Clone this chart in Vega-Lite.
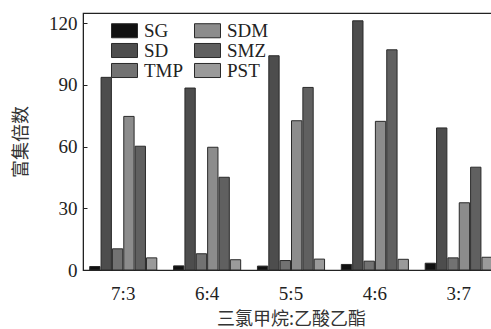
{
  "$schema": "https://vega.github.io/schema/vega-lite/v6.json",
  "autosize": "none",
  "padding": {"left": 83, "top": 13, "right": 0, "bottom": 59},
  "width": 416,
  "height": 257,
  "background": "white",
  "config": {
    "view": {"stroke": "#222", "strokeWidth": 1.2},
    "axis": {"domainColor": "#222", "tickColor": "#222", "labelColor": "#222", "titleColor": "#333", "grid": false}
  },
  "data": {
    "values": [
      {"ratio": "7:3", "compound": "SG", "value": 1.7},
      {"ratio": "7:3", "compound": "SD", "value": 93.7},
      {"ratio": "7:3", "compound": "TMP", "value": 10.3},
      {"ratio": "7:3", "compound": "SDM", "value": 74.7},
      {"ratio": "7:3", "compound": "SMZ", "value": 60.2},
      {"ratio": "7:3", "compound": "PST", "value": 5.9},
      {"ratio": "6:4", "compound": "SG", "value": 2.0},
      {"ratio": "6:4", "compound": "SD", "value": 88.5},
      {"ratio": "6:4", "compound": "TMP", "value": 7.9},
      {"ratio": "6:4", "compound": "SDM", "value": 59.7},
      {"ratio": "6:4", "compound": "SMZ", "value": 45.1},
      {"ratio": "6:4", "compound": "PST", "value": 5.0},
      {"ratio": "5:5", "compound": "SG", "value": 1.9},
      {"ratio": "5:5", "compound": "SD", "value": 104.2},
      {"ratio": "5:5", "compound": "TMP", "value": 4.6},
      {"ratio": "5:5", "compound": "SDM", "value": 72.6},
      {"ratio": "5:5", "compound": "SMZ", "value": 88.8},
      {"ratio": "5:5", "compound": "PST", "value": 5.3},
      {"ratio": "4:6", "compound": "SG", "value": 2.7},
      {"ratio": "4:6", "compound": "SD", "value": 121.2},
      {"ratio": "4:6", "compound": "TMP", "value": 4.3},
      {"ratio": "4:6", "compound": "SDM", "value": 72.3},
      {"ratio": "4:6", "compound": "SMZ", "value": 107.1},
      {"ratio": "4:6", "compound": "PST", "value": 5.2},
      {"ratio": "3:7", "compound": "SG", "value": 3.3},
      {"ratio": "3:7", "compound": "SD", "value": 69.1},
      {"ratio": "3:7", "compound": "TMP", "value": 5.9},
      {"ratio": "3:7", "compound": "SDM", "value": 32.7},
      {"ratio": "3:7", "compound": "SMZ", "value": 50.0},
      {"ratio": "3:7", "compound": "PST", "value": 6.2}
    ]
  },
  "mark": {"type": "bar", "stroke": "#2a2a2a", "strokeWidth": 1},
  "encoding": {
    "x": {
      "field": "ratio",
      "type": "nominal",
      "sort": ["7:3", "6:4", "5:5", "4:6", "3:7"],
      "scale": {"paddingInner": 0.2, "paddingOuter": 0.08},
      "axis": {
        "title": "三氯甲烷:乙酸乙酯",
        "titleFont": "Noto Sans CJK SC",
        "titleFontSize": 18,
        "titleFontWeight": "normal",
        "titlePadding": 7,
        "labelFont": "Liberation Serif",
        "labelFontSize": 19,
        "labelAngle": 0,
        "labelPadding": 14,
        "ticks": false
      }
    },
    "xOffset": {
      "field": "compound",
      "type": "nominal",
      "sort": ["SG", "SD", "TMP", "SDM", "SMZ", "PST"],
      "scale": {"paddingInner": 0.09}
    },
    "y": {
      "field": "value",
      "type": "quantitative",
      "scale": {"domain": [0, 125], "nice": false},
      "axis": {
        "title": "富集倍数",
        "titleFont": "Noto Sans CJK SC",
        "titleFontSize": 18,
        "titleFontWeight": "normal",
        "titlePadding": 18,
        "values": [0, 30, 60, 90, 120],
        "labelFont": "Liberation Serif",
        "labelFontSize": 19,
        "tickSize": -4,
        "labelPadding": 10
      }
    },
    "fill": {
      "field": "compound",
      "type": "nominal",
      "scale": {
        "domain": ["SG", "SD", "TMP", "SDM", "SMZ", "PST"],
        "range": ["#111111", "#4d4d4d", "#727272", "#8c8c8c", "#606060", "#9a9a9a"]
      },
      "legend": {
        "title": null,
        "orient": "none",
        "legendX": 32,
        "legendY": 8,
        "columns": 2,
        "padding": 0,
        "columnPadding": 8,
        "rowPadding": -1,
        "symbolType": "M-2,-1.08H2V1.08H-2Z",
        "symbolSize": 169,
        "symbolStrokeColor": "#2a2a2a",
        "symbolStrokeWidth": 1,
        "labelFont": "Liberation Serif",
        "labelFontSize": 19,
        "labelColor": "#222",
        "labelOffset": 10
      }
    }
  }
}
